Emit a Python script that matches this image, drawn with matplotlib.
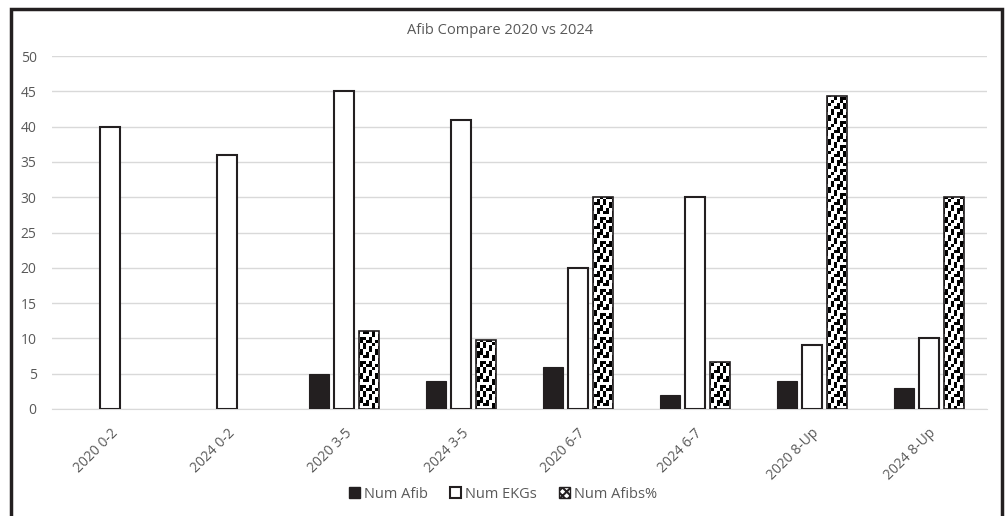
import numpy as np
import matplotlib.pyplot as plt
from matplotlib.patches import Rectangle, Patch

plt.rcParams['font.family'] = ['Open Sans', 'DejaVu Sans']
plt.rcParams['hatch.linewidth'] = 1.5
plt.rcParams['hatch.color'] = 'black'

groups = ['2020 0-2', '2024 0-2', '2020 3-5', '2024 3-5',
          '2020 6-7', '2024 6-7', '2020 8-Up', '2024 8-Up']
num_afib = [0, 0, 5, 4, 6, 2, 4, 3]
num_ekgs = [40, 36, 45, 41, 20, 30, 9, 10]
afib_pct = [0, 0, 11.1, 9.8, 30, 6.7, 44.4, 30]

# confetti tile used to fill the Afibs% bars
motif = np.array([
    [1, 0, 0, 1, 0, 0, 1, 0],
    [1, 0, 1, 0, 0, 1, 1, 0],
    [0, 0, 1, 0, 1, 0, 0, 1],
    [0, 1, 0, 0, 1, 0, 1, 1],
    [1, 1, 0, 1, 0, 0, 1, 0],
    [0, 0, 0, 1, 0, 1, 0, 0],
    [1, 0, 1, 0, 0, 1, 0, 1],
    [0, 1, 1, 0, 1, 0, 0, 1],
])

grey = '#595959'
ink = '#231f20'
fig = plt.figure(figsize=(10.06, 5.16), dpi=100)
ax = fig.add_axes([52/1006, 1-409/516, (987-52)/1006, (409-56)/516])

x = np.arange(len(groups))
w = 0.171
off = 0.214
xlim = (-0.5, len(groups) - 0.5)
ylim = (0, 50)
texture = np.tile(motif, (353 // 24 + 1, 935 // 24 + 1))
texture = texture[:353 // 3 + 1, :935 // 3 + 1]

styles = [
    dict(facecolor=ink, edgecolor=ink, linewidth=0.8),
    dict(facecolor='white', edgecolor=ink, linewidth=1.5),
    dict(facecolor='none', edgecolor=ink, linewidth=1.2),
]
labels = ['Num Afib', 'Num EKGs', 'Num Afibs%']
for i, (vals, dx, st) in enumerate(zip([num_afib, num_ekgs, afib_pct],
                                       [-off, 0, off], styles)):
    bars = ax.bar(x + dx, vals, w, zorder=4, **st)
    for r in bars:
        # empty groups get no visible bar
        if r.get_height() == 0:
            r.set_visible(False)
        elif i == 2:
            im = ax.imshow(texture, cmap='gray_r', vmin=0, vmax=1,
                           extent=(*xlim, *ylim), aspect='auto',
                           interpolation='nearest', zorder=3)
            im.set_clip_path(r)

ax.set_xlim(*xlim)
ax.set_ylim(*ylim)
ax.set_yticks(range(0, 51, 5))
ax.yaxis.grid(True, color='#d9d9d9', linewidth=1)
ax.set_axisbelow(True)
for s in ['top', 'right', 'left']:
    ax.spines[s].set_visible(False)
ax.spines['bottom'].set_color('#d9d9d9')
ax.tick_params(axis='both', length=0, colors=grey, labelsize=10)
ax.tick_params(axis='y', pad=11)
ax.tick_params(axis='x', pad=12)
ax.set_xticks(x)
ax.set_xticklabels(groups, rotation=45, ha='right', rotation_mode='anchor')

fig.text(0.497, 1-30/516, 'Afib Compare 2020 vs 2024', ha='center',
         va='center', color=grey, fontsize=10.5)

handles = [Patch(facecolor=ink, edgecolor=ink, label=labels[0]),
           Patch(facecolor='white', edgecolor=ink, linewidth=1.5,
                 label=labels[1]),
           Patch(facecolor='white', edgecolor=ink, hatch='xxxx',
                 label=labels[2])]
fig.legend(handles=handles, loc='center', bbox_to_anchor=(0.5, 1-494/516),
           ncol=3, frameon=False, fontsize=10.5, labelcolor=grey,
           handlelength=0.75, handleheight=0.75, handletextpad=0.3,
           columnspacing=1.5)

fig.patches.append(Rectangle((11/1006, -0.05), (1002-11)/1006, 1.05 - 9/516,
                             transform=fig.transFigure, fill=False,
                             edgecolor=ink, linewidth=2.5))

fig.savefig('out.png', dpi=100)
